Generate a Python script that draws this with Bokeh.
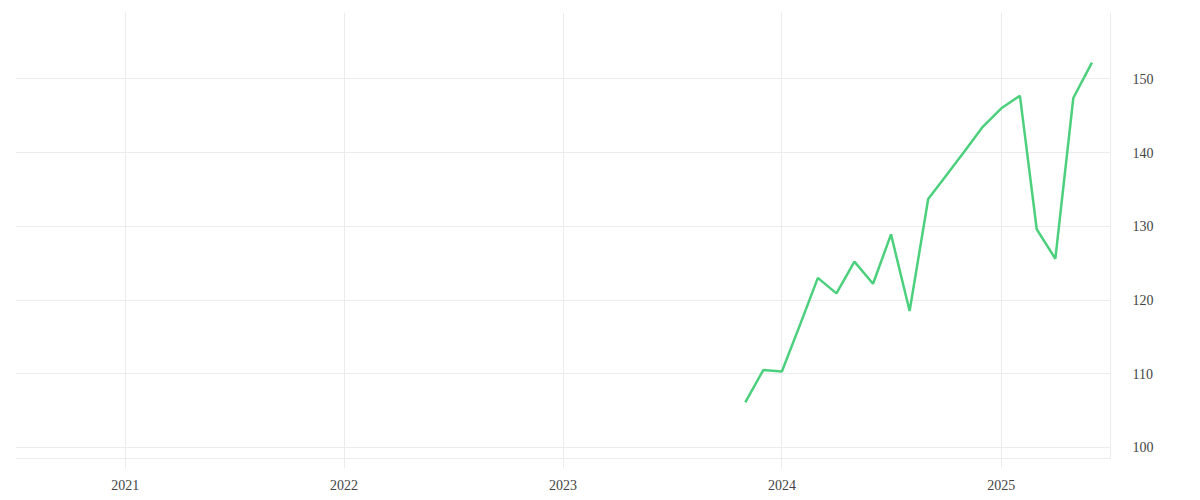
from datetime import datetime
import pandas as pd
from bokeh.plotting import figure
from bokeh.models import Range1d, FixedTicker, DatetimeTickFormatter, ColumnDataSource
from bokeh.embed import file_html
from bokeh.resources import INLINE

months = ["2023-11", "2023-12", "2024-01", "2024-02", "2024-03", "2024-04", "2024-05",
          "2024-06", "2024-07", "2024-08", "2024-09", "2024-10", "2024-11", "2024-12",
          "2025-01", "2025-02", "2025-03", "2025-04", "2025-05", "2025-06"]
values = [106.1, 110.5, 110.3, 116.8, 123.0, 120.9, 125.2,
          122.2, 128.9, 118.5, 133.7, 136.9, 140.2, 143.5,
          146.0, 147.7, 129.6, 125.6, 147.4, 152.2]
tick_years = [2021, 2022, 2023, 2024, 2025]
y_ticks = [100, 110, 120, 130, 140, 150]

dates = pd.to_datetime([m + "-01" for m in months])
src = ColumnDataSource(dict(x=dates, y=values))

GRID = "#ececec"
FONT = "Liberation Serif"
LABEL = "#444444"

p = figure(frame_width=1095, frame_height=446, x_axis_type="datetime",
           y_axis_location="right", output_backend="svg", toolbar_location=None,
           min_border_left=15, min_border_top=12, min_border_right=10, min_border_bottom=10,
           x_range=Range1d(datetime(2020, 7, 2), datetime(2025, 7, 2)),
           y_range=Range1d(98.5, 159.0))
p.outline_line_color = None
p.background_fill_color = "white"
p.border_fill_color = "white"

p.line("x", "y", source=src, line_color="#4cd07d", line_width=2.5)

year_ms = [pd.Timestamp(f"{yr}-01-01").value / 1e6 for yr in tick_years]
p.xaxis.ticker = FixedTicker(ticks=year_ms)
p.xaxis.formatter = DatetimeTickFormatter(years="%Y", months="%Y", days="%Y", hours="%Y")
p.xaxis.axis_line_color = GRID
p.xaxis.major_tick_line_color = GRID
p.xaxis.major_tick_out = 10
p.xaxis.major_tick_in = 0
p.xaxis.minor_tick_line_color = None
p.xaxis.major_label_standoff = 11
p.xaxis.major_label_text_font = FONT
p.xaxis.major_label_text_font_size = "14px"
p.xaxis.major_label_text_color = LABEL

p.yaxis.ticker = FixedTicker(ticks=y_ticks)
p.yaxis.axis_line_color = GRID
p.yaxis.major_tick_line_color = None
p.yaxis.minor_tick_line_color = None
p.yaxis.major_label_standoff = 16
p.yaxis.major_label_text_font = FONT
p.yaxis.major_label_text_font_size = "14px"
p.yaxis.major_label_text_color = LABEL

p.xgrid.grid_line_color = GRID
p.ygrid.grid_line_color = GRID

open("out.html", "w").write(file_html(p, INLINE))
